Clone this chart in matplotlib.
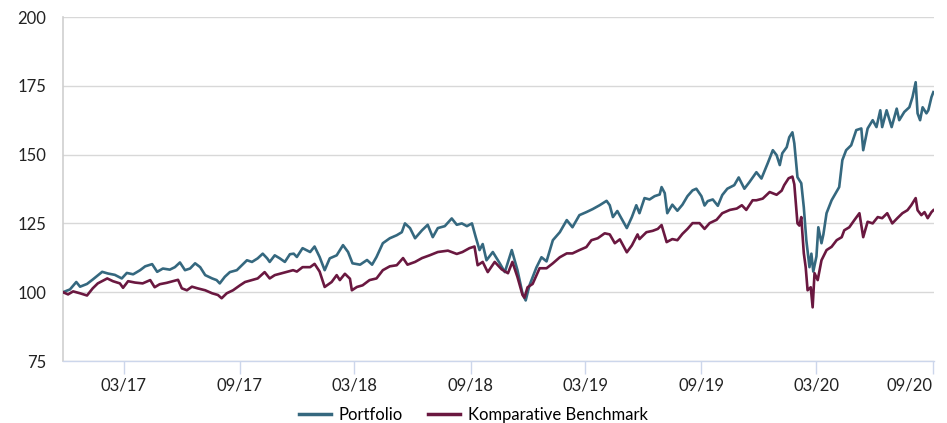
import matplotlib
matplotlib.use("Agg")
import matplotlib.pyplot as plt
import pandas as pd

start_date = "2016-11-25"
end_date = "2020-09-03"

# day offsets from start_date and index values
portfolio_day = [0, 11, 21, 27, 38, 47, 62, 71, 82, 93, 101, 111, 122, 130, 141, 149, 158, 169, 177, 185,
                 193, 201, 209, 217, 225, 236, 243, 248, 256, 264, 275, 283, 291, 299, 308, 316, 323, 327, 335, 343,
                 351, 359, 365, 370, 379, 391, 398, 406, 414, 422, 433, 443, 451, 458, 470, 481, 489, 496, 506, 517,
                 528, 536, 541, 549, 557, 568, 577, 585, 593, 604, 615, 623, 631, 639, 647, 653, 659, 664, 670, 680,
                 691, 699, 710, 719, 727, 732, 738, 749, 757, 765, 775, 786, 797, 806, 817, 828, 838, 849, 860, 865,
                 870, 877, 885, 892, 900, 907, 912, 920, 928, 936, 944, 947, 952, 956, 964, 972, 980, 988, 996, 1002,
                 1010, 1015, 1020, 1028, 1036, 1043, 1051, 1062, 1069, 1078, 1086, 1097, 1105, 1115, 1123, 1129, 1134, 1138, 1145, 1149,
                 1154, 1157, 1162, 1168, 1172, 1176, 1181, 1184, 1187, 1192, 1195, 1200, 1203, 1208, 1216, 1224, 1228, 1233, 1239, 1247,
                 1255, 1263, 1266, 1273, 1281, 1287, 1293, 1296, 1303, 1311, 1319, 1323, 1331, 1339, 1344, 1349, 1352, 1356, 1360, 1366,
                 1369, 1374, 1377]
portfolio_val = [100.0, 101.0, 103.7, 102.0, 103.0, 104.6, 107.4, 106.8, 106.3, 105.0, 107.0, 106.5, 108.0, 109.4, 110.2, 107.4, 108.6, 108.2, 109.1, 110.8,
                 108.0, 108.6, 110.5, 109.1, 106.2, 105.0, 104.4, 103.2, 105.6, 107.3, 108.0, 109.8, 111.6, 111.0, 112.3, 114.0, 112.3, 111.0, 113.4, 112.3,
                 111.0, 113.8, 114.0, 112.8, 116.0, 114.6, 116.6, 112.8, 108.0, 112.3, 113.4, 117.1, 114.6, 110.5, 110.0, 111.7, 110.0, 112.8, 117.8, 119.6,
                 120.7, 121.8, 125.0, 123.3, 119.6, 122.5, 124.5, 120.0, 123.3, 124.0, 126.8, 124.5, 125.0, 124.0, 125.0, 120.0, 115.3, 117.5, 111.6, 114.6,
                 110.5, 107.3, 115.3, 108.0, 99.5, 97.0, 102.5, 109.0, 112.7, 111.2, 118.9, 121.8, 126.2, 123.6, 128.0, 129.1, 130.2, 131.6, 133.2, 131.6,
                 127.3, 129.5, 126.2, 123.3, 127.3, 131.6, 128.7, 134.2, 133.7, 134.9, 135.5, 138.2, 136.0, 128.7, 131.8, 129.6, 131.8, 134.9, 137.0, 137.6,
                 134.9, 131.5, 133.1, 133.7, 131.4, 135.3, 137.6, 138.9, 141.7, 137.6, 140.0, 143.6, 141.3, 146.9, 151.6, 149.8, 146.2, 150.5, 152.7, 156.3,
                 158.1, 154.1, 141.8, 139.6, 130.9, 118.9, 109.1, 114.0, 107.5, 113.0, 123.6, 117.8, 121.0, 128.7, 133.4, 136.6, 138.2, 148.0, 151.6, 153.4,
                 158.9, 159.5, 151.6, 159.5, 162.5, 160.0, 166.1, 160.0, 166.1, 160.0, 166.7, 162.5, 165.5, 167.2, 170.9, 176.3, 165.0, 162.5, 167.2, 165.0,
                 166.1, 170.9, 172.7]

benchmark_day = [0, 8, 16, 27, 38, 47, 55, 70, 79, 90, 95, 103, 114, 126, 138, 145, 153, 164, 174, 182,
                 188, 196, 204, 213, 225, 236, 245, 251, 259, 269, 280, 288, 299, 308, 319, 327, 335, 346, 356, 364,
                 370, 379, 391, 398, 406, 414, 425, 433, 438, 446, 454, 457, 465, 474, 485, 496, 506, 517, 528, 538,
                 545, 557, 568, 580, 593, 609, 623, 632, 643, 651, 656, 664, 672, 683, 694, 704, 711, 719, 727, 730,
                 735, 743, 754, 765, 775, 786, 797, 806, 817, 828, 836, 846, 857, 865, 873, 881, 892, 900, 909, 912,
                 923, 933, 941, 947, 955, 964, 972, 980, 988, 996, 1007, 1015, 1023, 1034, 1043, 1055, 1066, 1074, 1081, 1091,
                 1097, 1107, 1118, 1129, 1137, 1141, 1148, 1154, 1157, 1162, 1165, 1168, 1172, 1175, 1178, 1183, 1186, 1189, 1194, 1200,
                 1208, 1216, 1224, 1232, 1236, 1244, 1252, 1260, 1266, 1273, 1281, 1289, 1296, 1304, 1312, 1320, 1328, 1336, 1342, 1349,
                 1352, 1358, 1363, 1368, 1374, 1377]
benchmark_val = [100.0, 99.2, 100.3, 99.6, 98.8, 101.4, 103.2, 105.0, 104.0, 103.2, 101.6, 104.0, 103.5, 103.2, 104.4, 101.8, 102.9, 103.4, 104.0, 104.5,
                 101.4, 100.7, 102.0, 101.4, 100.7, 99.6, 99.0, 97.8, 99.6, 100.7, 102.5, 103.7, 104.4, 105.0, 107.3, 105.0, 106.2, 106.9, 107.5, 108.0,
                 107.5, 109.1, 109.1, 110.3, 107.5, 101.9, 103.7, 106.2, 104.4, 106.7, 104.9, 100.7, 101.9, 102.5, 104.4, 105.0, 108.0, 109.4, 109.8, 112.4,
                 110.0, 111.0, 112.4, 113.4, 114.6, 115.1, 113.9, 114.6, 116.0, 116.6, 109.8, 111.0, 107.3, 111.0, 108.3, 106.9, 111.0, 105.5, 99.0, 98.0,
                 101.8, 103.0, 108.7, 108.7, 110.5, 112.7, 114.1, 114.1, 115.3, 116.4, 118.9, 119.6, 121.4, 121.0, 117.8, 119.2, 114.5, 117.0, 121.0, 119.3,
                 121.8, 122.3, 123.0, 124.4, 118.2, 119.3, 118.9, 121.2, 123.0, 125.1, 125.1, 123.0, 125.1, 126.3, 128.7, 129.9, 130.4, 131.6, 129.9, 133.4,
                 133.4, 134.0, 136.4, 135.4, 136.9, 138.9, 141.4, 142.0, 139.2, 125.0, 124.2, 127.3, 114.2, 109.1, 100.7, 101.8, 94.5, 106.9, 104.4, 111.6,
                 115.3, 116.5, 118.9, 120.0, 122.5, 123.6, 126.2, 128.7, 120.0, 125.6, 125.0, 127.3, 126.9, 128.7, 125.0, 126.9, 128.7, 129.8, 131.6, 134.2,
                 129.8, 128.0, 129.1, 126.9, 129.1, 129.8]

y_ticks = [75, 100, 125, 150, 175, 200]
x_tick_dates = ["2017-03-01", "2017-09-01", "2018-03-01", "2018-09-01",
                "2019-03-01", "2019-09-01", "2020-03-01", "2020-09-01"]
x_tick_labels = ["03/17", "09/17", "03/18", "09/18", "03/19", "09/19", "03/20", "09/20"]
series_names = ["Portfolio", "Komparative Benchmark"]

plt.rcParams['font.family'] = ['Lato', 'DejaVu Sans']

t0 = pd.Timestamp(start_date)
p_dates = t0 + pd.to_timedelta(portfolio_day, unit="D")
b_dates = t0 + pd.to_timedelta(benchmark_day, unit="D")

fig = plt.figure(figsize=(9.47, 4.23), dpi=100)
ax = fig.add_axes([63 / 947, (423 - 361) / 423, (934 - 63) / 947, (361 - 17) / 423])

c_port = "#35687f"
c_bench = "#6a1840"
ax.plot(p_dates, portfolio_val, color=c_port, lw=1.9, label=series_names[0], zorder=3, solid_joinstyle="round")
ax.plot(b_dates, benchmark_val, color=c_bench, lw=1.9, label=series_names[1], zorder=3, solid_joinstyle="round")

ax.set_ylim(75, 200)
ax.set_xlim(t0, pd.Timestamp(end_date))
ax.set_yticks(y_ticks)
ax.set_xticks(pd.to_datetime(x_tick_dates))
ax.set_xticklabels(x_tick_labels)
ax.get_xticklabels()[-1].set_horizontalalignment("right")

ax.grid(axis="y", color="#d8d8d8", lw=1.0)
ax.set_axisbelow(True)
for s in ["top", "right"]:
    ax.spines[s].set_visible(False)
ax.spines["left"].set_color("#cfcfcf")
ax.spines["left"].set_linewidth(1.2)
ax.spines["bottom"].set_color("#ccd6eb")
ax.spines["bottom"].set_linewidth(1.0)
ax.tick_params(axis="y", length=0, pad=12, labelsize=12, labelcolor="#222222")
ax.tick_params(axis="x", length=9, width=1.0, color="#ccd6eb", pad=3, labelsize=12, labelcolor="#222222")

leg = fig.legend(loc="lower center", bbox_to_anchor=(0.5, -0.035), ncol=2, frameon=False,
                 fontsize=12, handlelength=1.9, columnspacing=1.5, handletextpad=0.5)
for line in leg.get_lines():
    line.set_linewidth(2.5)

fig.savefig("out.png", dpi=100)
